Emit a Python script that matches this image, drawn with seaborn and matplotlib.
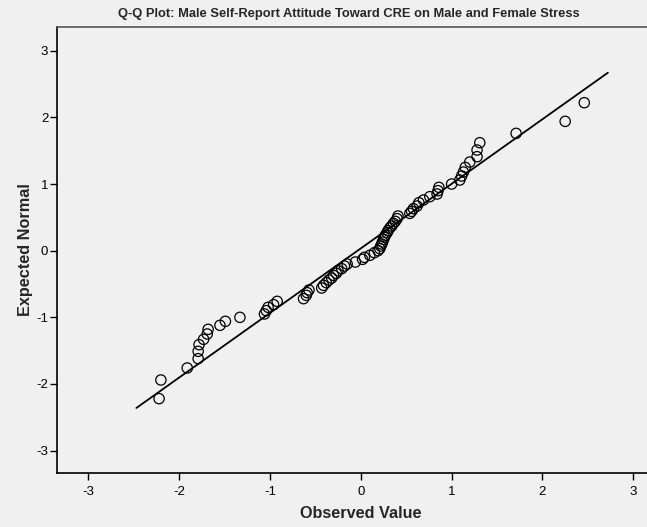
import matplotlib
matplotlib.use("Agg")
import matplotlib.pyplot as plt
import seaborn as sns
import pandas as pd

# Observed (standardized) values, sorted, and their expected normal scores
observed = [-2.22, -2.20, -1.91, -1.79, -1.79, -1.78, -1.73, -1.69, -1.68, -1.55,
            -1.49, -1.33, -1.06, -1.04, -1.02, -0.96, -0.92, -0.63, -0.60, -0.59,
            -0.57, -0.43, -0.41, -0.38, -0.35, -0.32, -0.30, -0.27, -0.25, -0.21,
            -0.18, -0.15, -0.06, 0.02, 0.04, 0.10, 0.15, 0.19, 0.21, 0.22,
            0.23, 0.24, 0.25, 0.26, 0.27, 0.29, 0.30, 0.32, 0.34, 0.36,
            0.38, 0.40, 0.41, 0.54, 0.56, 0.58, 0.62, 0.64, 0.69, 0.76,
            0.84, 0.85, 0.86, 1.00, 1.09, 1.11, 1.13, 1.15, 1.20, 1.28,
            1.28, 1.31, 1.71, 2.25, 2.46]
expected = [-2.22, -1.94, -1.76, -1.62, -1.51, -1.41, -1.33, -1.25, -1.18, -1.12,
            -1.06, -1.00, -0.95, -0.90, -0.85, -0.81, -0.76, -0.72, -0.67, -0.63,
            -0.59, -0.56, -0.52, -0.48, -0.44, -0.41, -0.37, -0.34, -0.30, -0.27,
            -0.23, -0.20, -0.17, -0.13, -0.10, -0.07, -0.03, 0.00, 0.03, 0.07,
            0.10, 0.13, 0.17, 0.20, 0.23, 0.27, 0.30, 0.34, 0.37, 0.41,
            0.44, 0.48, 0.52, 0.56, 0.59, 0.63, 0.67, 0.72, 0.76, 0.81,
            0.85, 0.90, 0.95, 1.00, 1.06, 1.12, 1.18, 1.25, 1.33, 1.41,
            1.51, 1.62, 1.76, 1.94, 2.22]

# Reference line endpoints
line_x = [-2.47, 2.72]
line_y = [-2.36, 2.67]

ticks = [-3, -2, -1, 0, 1, 2, 3]

sns.set_theme(style="ticks")
plt.rcParams["font.family"] = ["Liberation Sans", "DejaVu Sans"]

bg = "#f0f0f0"
df = pd.DataFrame({"Observed Value": observed, "Expected Normal": expected})
line_df = pd.DataFrame({"x": line_x, "y": line_y})

fig = plt.figure(figsize=(6.47, 5.27), dpi=100, facecolor=bg)
ax = fig.add_axes([0.0886, 0.1019, 0.938, 0.8474])
ax.set_facecolor(bg)

sns.lineplot(data=line_df, x="x", y="y", ax=ax, color="black", linewidth=1.3,
             zorder=2)
sns.scatterplot(data=df, x="Observed Value", y="Expected Normal", ax=ax,
                marker="o", s=55, facecolors="none", edgecolor="black",
                linewidth=0.9, zorder=3)

ax.set_xlim(-3.34, 3.34)
ax.set_ylim(-3.34, 3.36)
ax.set_xticks(ticks)
ax.set_yticks(ticks)
ax.set_xticklabels([str(t) for t in ticks])
ax.set_yticklabels([str(t) for t in ticks])
ax.tick_params(axis="both", direction="out", length=5, width=1, colors="black",
               labelsize=9.5)
ax.tick_params(axis="y", pad=1.5)
ax.tick_params(axis="x", pad=4)

for side in ("left", "bottom"):
    ax.spines[side].set_color("black")
    ax.spines[side].set_linewidth(1.2)
ax.spines["top"].set_visible(True)
ax.spines["top"].set_color("#555555")
ax.spines["top"].set_linewidth(1.2)
ax.spines["right"].set_visible(False)

ax.set_xlabel("Observed Value", fontsize=11.7, fontweight="bold", labelpad=6)
ax.set_ylabel("Expected Normal", fontsize=11.7, fontweight="bold", labelpad=2.5)

fig.text(348.5 / 647, 1 - 14 / 527,
         "Q-Q Plot: Male Self-Report Attitude Toward CRE on Male and Female Stress",
         ha="center", va="center", fontsize=9.3, fontweight="bold")

fig.savefig("out.png", dpi=100, facecolor=bg)
